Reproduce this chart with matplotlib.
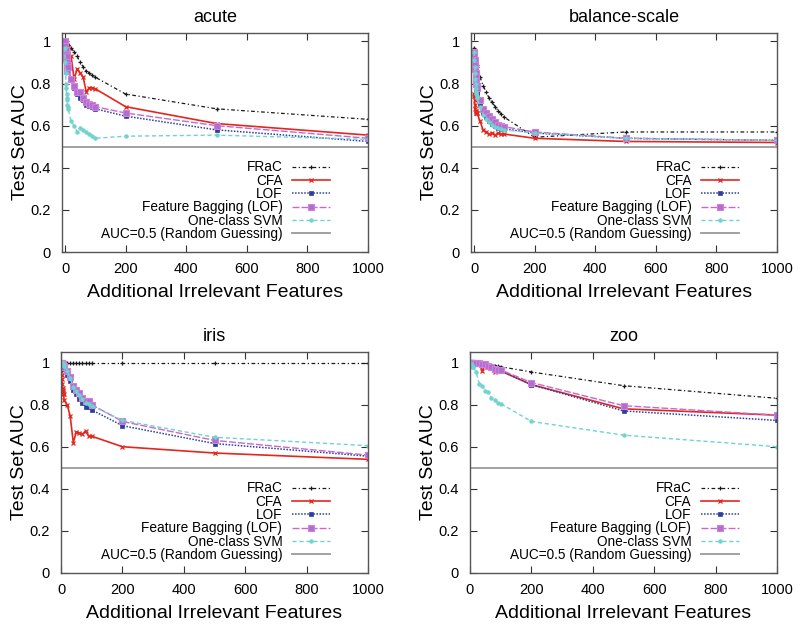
import matplotlib
matplotlib.use("Agg")
import matplotlib.pyplot as plt

plt.rcParams['font.family'] = ['Liberation Sans', 'DejaVu Sans']

x_features = [0, 1, 2, 3, 4, 5, 6, 7, 8, 9, 10, 20, 30, 40, 50, 60, 70, 80, 90, 100, 200, 500, 1000]

method_names = ["FRaC", "CFA", "LOF", "Feature Bagging (LOF)", "One-class SVM"]
random_label = "AUC=0.5 (Random Guessing)"
dataset_titles = ["acute", "balance-scale", "iris", "zoo"]

# acute
acute_frac = [1.0, 1.0, 1.0, 0.995, 0.995, 0.99, 0.99, 0.99, 0.99, 0.985, 0.985, 0.97, 0.95, 0.93, 0.90, 0.88, 0.86, 0.85, 0.84, 0.83, 0.75, 0.68, 0.63]
acute_cfa = [1.0, 1.0, 0.99, 0.99, 0.98, 0.98, 0.97, 0.97, 0.97, 0.97, 0.96, 0.93, 0.82, 0.87, 0.85, 0.83, 0.76, 0.78, 0.78, 0.775, 0.69, 0.61, 0.555]
acute_lof = [1.0, 0.97, 0.95, 0.90, 0.92, 0.88, 0.90, 0.87, 0.86, 0.88, 0.86, 0.82, 0.78, 0.75, 0.73, 0.72, 0.70, 0.695, 0.69, 0.68, 0.645, 0.58, 0.525]
acute_fb = [1.0, 0.98, 0.96, 0.92, 0.94, 0.86, 0.93, 0.90, 0.88, 0.89, 0.88, 0.82, 0.79, 0.76, 0.76, 0.73, 0.71, 0.705, 0.70, 0.69, 0.66, 0.60, 0.54]
acute_svm = [0.97, 0.90, 0.85, 0.80, 0.78, 0.75, 0.73, 0.72, 0.70, 0.69, 0.68, 0.62, 0.60, 0.57, 0.59, 0.58, 0.57, 0.56, 0.55, 0.54, 0.55, 0.555, 0.535]

# balance-scale
balance_frac = [0.97, 0.96, 0.95, 0.94, 0.93, 0.92, 0.91, 0.90, 0.90, 0.89, 0.88, 0.83, 0.79, 0.76, 0.73, 0.71, 0.69, 0.67, 0.655, 0.64, 0.545, 0.57, 0.57]
balance_cfa = [0.75, 0.74, 0.72, 0.70, 0.68, 0.67, 0.67, 0.66, 0.66, 0.66, 0.66, 0.62, 0.58, 0.57, 0.56, 0.565, 0.555, 0.565, 0.56, 0.56, 0.54, 0.525, 0.52]
balance_lof = [0.95, 0.92, 0.90, 0.87, 0.85, 0.83, 0.81, 0.79, 0.77, 0.76, 0.75, 0.70, 0.66, 0.64, 0.62, 0.61, 0.60, 0.59, 0.585, 0.585, 0.565, 0.54, 0.53]
balance_fb = [0.95, 0.93, 0.91, 0.89, 0.87, 0.85, 0.83, 0.81, 0.80, 0.79, 0.78, 0.72, 0.68, 0.66, 0.645, 0.63, 0.615, 0.605, 0.60, 0.595, 0.57, 0.54, 0.53]
balance_svm = [0.95, 0.91, 0.88, 0.85, 0.82, 0.80, 0.78, 0.76, 0.75, 0.74, 0.73, 0.69, 0.65, 0.63, 0.615, 0.605, 0.595, 0.59, 0.585, 0.58, 0.565, 0.54, 0.53]

# iris
iris_frac = [1.0] * 23
iris_cfa = [0.98, 0.96, 0.94, 0.92, 0.90, 0.88, 0.87, 0.86, 0.85, 0.85, 0.82, 0.80, 0.745, 0.62, 0.67, 0.665, 0.66, 0.675, 0.65, 0.65, 0.60, 0.57, 0.54]
iris_lof = [1.0, 1.0, 1.0, 0.995, 0.99, 0.99, 0.985, 0.98, 0.975, 0.975, 0.97, 0.94, 0.91, 0.87, 0.85, 0.825, 0.81, 0.79, 0.79, 0.775, 0.70, 0.615, 0.555]
iris_fb = [1.0, 1.0, 1.0, 1.0, 0.995, 0.995, 0.99, 0.99, 0.985, 0.985, 0.98, 0.96, 0.93, 0.89, 0.87, 0.855, 0.83, 0.815, 0.815, 0.80, 0.72, 0.63, 0.56]
iris_svm = [1.0, 1.0, 1.0, 1.0, 1.0, 0.995, 0.995, 0.99, 0.99, 0.99, 0.985, 0.96, 0.925, 0.885, 0.865, 0.845, 0.825, 0.81, 0.805, 0.795, 0.725, 0.645, 0.605]

# zoo
zoo_frac = [1.0, 1.0, 1.0, 1.0, 1.0, 1.0, 1.0, 1.0, 1.0, 1.0, 1.0, 0.998, 0.995, 0.995, 0.99, 0.99, 0.99, 0.985, 0.985, 0.98, 0.955, 0.89, 0.83]
zoo_cfa = [1.0, 1.0, 1.0, 1.0, 1.0, 1.0, 1.0, 1.0, 1.0, 1.0, 1.0, 0.998, 0.995, 0.96, 0.99, 0.99, 0.975, 0.955, 0.96, 0.96, 0.895, 0.78, 0.75]
zoo_lof = [1.0, 1.0, 1.0, 1.0, 1.0, 1.0, 1.0, 1.0, 1.0, 1.0, 1.0, 0.998, 0.995, 0.99, 0.99, 0.985, 0.975, 0.97, 0.965, 0.96, 0.895, 0.77, 0.725]
zoo_fb = [1.0, 1.0, 1.0, 1.0, 1.0, 1.0, 1.0, 1.0, 1.0, 1.0, 1.0, 1.0, 0.998, 0.995, 0.995, 0.985, 0.98, 0.97, 0.965, 0.965, 0.905, 0.795, 0.75]
zoo_svm = [1.0, 1.0, 0.995, 0.995, 0.99, 0.99, 0.985, 0.985, 0.98, 0.98, 0.98, 0.955, 0.90, 0.89, 0.865, 0.86, 0.83, 0.82, 0.81, 0.805, 0.72, 0.655, 0.60]

datasets = [
    [acute_frac, acute_cfa, acute_lof, acute_fb, acute_svm],
    [balance_frac, balance_cfa, balance_lof, balance_fb, balance_svm],
    [iris_frac, iris_cfa, iris_lof, iris_fb, iris_svm],
    [zoo_frac, zoo_cfa, zoo_lof, zoo_fb, zoo_svm],
]

styles = [
    dict(color='#1a1a1a', ls=(0, (3, 2, 1, 2)), lw=0.9, marker='+', ms=3.2, mew=0.9),
    dict(color='#e3261e', ls='-', lw=1.2, marker='x', ms=3.2, mew=0.9),
    dict(color='#2b3e9e', ls=(0, (1, 1)), lw=1.1, marker='s', ms=3.0, mew=0.5),
    dict(color='#c768cf', ls=(0, (5, 1.5)), lw=1.0, marker='s', ms=4.6, mew=0.8, mfc='#b070c8', mec='#d080e0'),
    dict(color='#6fd3cf', ls=(0, (3, 2)), lw=1.0, marker='o', ms=2.6, mew=0.5),
]

fig = plt.figure(figsize=(8, 6.29), dpi=100)
W, H = 800, 629
rects_px = [
    (62, 33, 368, 252),
    (471, 33, 777, 252),
    (61, 352, 368, 573),
    (470, 352, 777, 573),
]
xlims = [(-10, 1000), (-10, 1000), (0, 1000), (0, 1000)]
ylims = [(0, 1.04), (0, 1.04), (0, 1.05), (0, 1.05)]

for i, (l, t, r, b) in enumerate(rects_px):
    ax = fig.add_axes([l / W, 1 - b / H, (r - l) / W, (b - t) / H])
    handles = []
    for name, series, st in zip(method_names, datasets[i], styles):
        h, = ax.plot(x_features, series, label=name, **st)
        handles.append(h)
    hr = ax.axhline(0.5, color='#9a9a9a', lw=1.3, label=random_label)
    handles.append(hr)
    ax.set_xlim(*xlims[i])
    ax.set_ylim(*ylims[i])
    ax.set_xticks([0, 200, 400, 600, 800, 1000])
    ax.set_yticks([0, 0.2, 0.4, 0.6, 0.8, 1.0])
    ax.set_yticklabels(['0', '0.2', '0.4', '0.6', '0.8', '1'])
    ax.tick_params(direction='in', top=True, right=True, length=5, width=0.8,
                   labelsize=10.5, color='#333333')
    ax.tick_params(axis='y', pad=8)
    ax.tick_params(axis='x', pad=7)
    for sp in ax.spines.values():
        sp.set_color('#555555')
        sp.set_linewidth(1.0)
    ax.set_title(dataset_titles[i], fontsize=13, pad=8)
    ax.set_xlabel("Additional Irrelevant Features", fontsize=14, labelpad=6)
    ax.set_ylabel("Test Set AUC", fontsize=14, labelpad=1)
    ax.legend(handles=handles, loc='lower right', bbox_to_anchor=(0.876, 0.05),
              frameon=False, markerfirst=False, fontsize=9.8, handlelength=2.8,
              handletextpad=0.7, labelspacing=-0.05, borderpad=0, borderaxespad=0)

fig.savefig("out.png", dpi=100)
